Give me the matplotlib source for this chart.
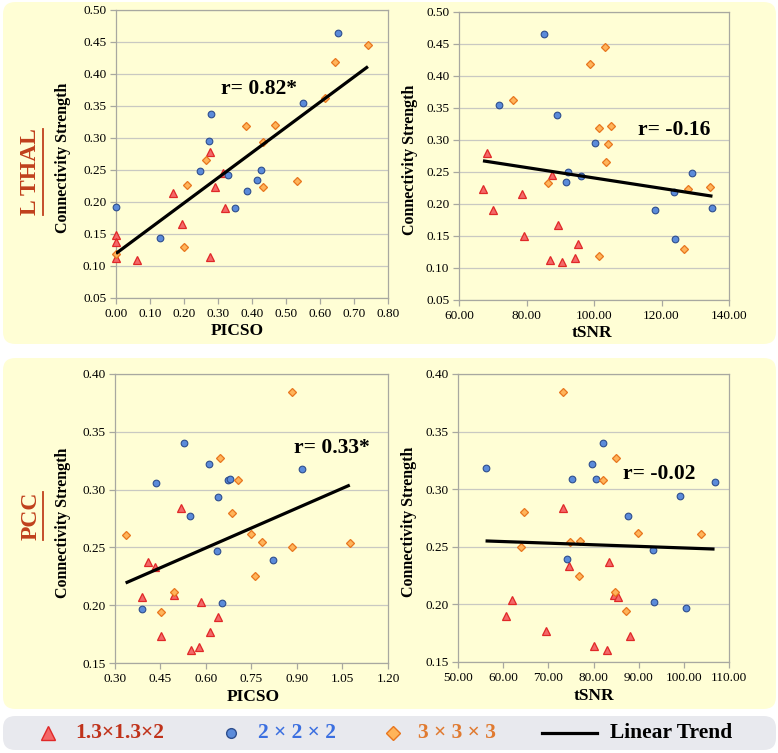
import numpy as np
import matplotlib
matplotlib.use('Agg')
import matplotlib.pyplot as plt
from matplotlib.patches import FancyBboxPatch
from matplotlib.lines import Line2D

plt.rcParams['font.family'] = ['Liberation Serif', 'DejaVu Serif']

# ---------------- data ----------------
# L THAL : PICSO
thal_picso_red = [0.0, 0.0, 0.0, 0.061, 0.167, 0.193, 0.275, 0.277, 0.29, 0.321, 0.314]
thal_str_red_p = [0.149, 0.137, 0.112, 0.110, 0.214, 0.166, 0.278, 0.114, 0.224, 0.190, 0.245]
thal_picso_blue = [0.0, 0.129, 0.247, 0.274, 0.278, 0.329, 0.349, 0.386, 0.416, 0.426, 0.549, 0.653]
thal_str_blue_p = [0.192, 0.144, 0.249, 0.295, 0.338, 0.242, 0.190, 0.217, 0.235, 0.250, 0.355, 0.464]
thal_picso_orange = [0.0, 0.2, 0.209, 0.266, 0.382, 0.433, 0.433, 0.467, 0.533, 0.614, 0.643, 0.741]
thal_str_orange_p = [0.118, 0.129, 0.226, 0.265, 0.318, 0.294, 0.224, 0.321, 0.233, 0.362, 0.418, 0.445]

# L THAL : tSNR
thal_tsnr_red = [67.1, 68.3, 70.2, 78.7, 79.4, 87.0, 87.6, 89.4, 90.4, 94.3, 95.4]
thal_str_red_t = [0.224, 0.279, 0.190, 0.215, 0.150, 0.113, 0.245, 0.167, 0.110, 0.115, 0.137]
thal_tsnr_blue = [71.95, 85.3, 89.0, 92.3, 91.8, 96.0, 100.3, 118.1, 123.7, 124.1, 128.9, 135.1]
thal_str_blue_t = [0.355, 0.465, 0.339, 0.250, 0.235, 0.243, 0.296, 0.190, 0.218, 0.145, 0.249, 0.193]
thal_tsnr_orange = [76.1, 86.4, 98.8, 103.2, 101.5, 105.0, 104.0, 103.5, 101.5, 126.6, 127.9, 134.4]
thal_str_orange_t = [0.362, 0.233, 0.418, 0.446, 0.318, 0.322, 0.294, 0.266, 0.118, 0.129, 0.224, 0.226]

# PCC : PICSO
pcc_picso_red = [0.388, 0.41, 0.431, 0.453, 0.493, 0.517, 0.551, 0.576, 0.584, 0.614, 0.638]
pcc_str_red_p = [0.207, 0.237, 0.233, 0.173, 0.209, 0.284, 0.161, 0.164, 0.203, 0.177, 0.190]
pcc_picso_blue = [0.389, 0.435, 0.529, 0.546, 0.61, 0.636, 0.641, 0.653, 0.671, 0.678, 0.822, 0.916]
pcc_str_blue_p = [0.197, 0.306, 0.340, 0.277, 0.322, 0.247, 0.294, 0.202, 0.308, 0.309, 0.239, 0.318]
pcc_picso_orange = [0.335, 0.45, 0.494, 0.647, 0.687, 0.704, 0.747, 0.76, 0.784, 0.883, 0.884, 1.074]
pcc_str_orange_p = [0.261, 0.194, 0.211, 0.327, 0.280, 0.308, 0.262, 0.225, 0.255, 0.384, 0.250, 0.254]

# PCC : tSNR
pcc_tsnr_red = [60.55, 61.96, 69.56, 73.3, 74.5, 80.0, 82.9, 83.5, 84.6, 85.5, 88.0]
pcc_str_red_t = [0.190, 0.204, 0.177, 0.284, 0.233, 0.164, 0.160, 0.237, 0.208, 0.206, 0.173]
pcc_tsnr_blue = [56.1, 74.1, 75.2, 79.6, 80.5, 82.0, 87.6, 93.2, 93.4, 99.2, 100.4, 106.8]
pcc_str_blue_t = [0.318, 0.239, 0.309, 0.322, 0.309, 0.340, 0.277, 0.247, 0.202, 0.294, 0.197, 0.306]
pcc_tsnr_orange = [63.9, 64.6, 73.2, 74.8, 77.1, 76.7, 82.2, 85.0, 84.7, 87.1, 89.8, 103.9]
pcc_str_orange_t = [0.250, 0.280, 0.384, 0.254, 0.255, 0.225, 0.308, 0.327, 0.211, 0.194, 0.262, 0.261]

r_labels = ["r= 0.82*", "r= -0.16", "r= 0.33*", "r= -0.02"]
row_labels = ["L THAL", "PCC"]
series_labels = ["1.3×1.3×2", "2 × 2 × 2", "3 × 3 × 3", "Linear Trend"]

# ---------------- style ----------------
W, H = 778, 753
BG = '#FFFED5'
RED_F, RED_E = '#F46868', '#E02828'
BLUE_F, BLUE_E = '#5B8BDA', '#2E4E8E'
OR_F, OR_E = '#FFB45A', '#E8761E'
GRID = '#C9C9C2'
SPINE = '#A8A8A0'

fig = plt.figure(figsize=(W / 100, H / 100), dpi=100)
fig.patch.set_facecolor('white')


def fx(px):
    return px / W


def fy(py):
    return 1 - py / H


def box(x0, y0, x1, y1, color):
    p = FancyBboxPatch((fx(x0), fy(y1)), fx(x1) - fx(x0), fy(y0) - fy(y1),
                       boxstyle="round,pad=0,rounding_size=0.016",
                       transform=fig.transFigure, facecolor=color,
                       edgecolor='none', zorder=0)
    fig.add_artist(p)


box(3, 2, 776, 344, BG)
box(3, 358, 776, 709, BG)
box(3, 716, 776, 750, '#E8E9EE')

panels = [
    dict(rect=(116, 10, 388, 298), xlim=(0, 0.8), xticks=np.arange(0, 0.81, 0.1),
         ylim=(0.05, 0.5), yticks=np.arange(0.05, 0.501, 0.05),
         red=(thal_picso_red, thal_str_red_p), blue=(thal_picso_blue, thal_str_blue_p),
         orange=(thal_picso_orange, thal_str_orange_p), r=(0.31, 0.376),
         xlab="PICSO", xlabpos=(237, 331), ylabx=63),
    dict(rect=(459, 12, 729, 300), xlim=(60, 140), xticks=np.arange(60, 141, 20),
         ylim=(0.05, 0.5), yticks=np.arange(0.05, 0.501, 0.05),
         red=(thal_tsnr_red, thal_str_red_t), blue=(thal_tsnr_blue, thal_str_blue_t),
         orange=(thal_tsnr_orange, thal_str_orange_t), r=(113, 0.316),
         xlab="tSNR", xlabpos=(592, 333), ylabx=410),
    dict(rect=(115, 374, 388, 663), xlim=(0.3, 1.2), xticks=np.arange(0.3, 1.201, 0.15),
         ylim=(0.15, 0.4), yticks=np.arange(0.15, 0.401, 0.05),
         red=(pcc_picso_red, pcc_str_red_p), blue=(pcc_picso_blue, pcc_str_blue_p),
         orange=(pcc_picso_orange, pcc_str_orange_p), r=(0.891, 0.336),
         xlab="PICSO", xlabpos=(253, 697), ylabx=63),
    dict(rect=(458, 374, 729, 662), xlim=(50, 110), xticks=np.arange(50, 111, 10),
         ylim=(0.15, 0.4), yticks=np.arange(0.15, 0.401, 0.05),
         red=(pcc_tsnr_red, pcc_str_red_t), blue=(pcc_tsnr_blue, pcc_str_blue_t),
         orange=(pcc_tsnr_orange, pcc_str_orange_t), r=(86.5, 0.313),
         xlab="tSNR", xlabpos=(594, 696), ylabx=409),
]

for i, p in enumerate(panels):
    x0, y0, x1, y1 = p['rect']
    ax = fig.add_axes([fx(x0), fy(y1), fx(x1) - fx(x0), fy(y0) - fy(y1)])
    ax.set_facecolor('none')
    ax.set_xlim(*p['xlim'])
    ax.set_ylim(*p['ylim'])
    ax.set_xticks(p['xticks'])
    ax.set_yticks(p['yticks'])
    ax.set_xticklabels([f"{v:.2f}" for v in p['xticks']])
    ax.set_yticklabels([f"{v:.2f}" for v in p['yticks']])
    ax.tick_params(axis='both', labelsize=9.5, color=SPINE, length=4, width=0.9,
                   direction='out', pad=3)
    for s in ax.spines.values():
        s.set_color(SPINE)
        s.set_linewidth(0.9)
    ax.grid(axis='y', color=GRID, lw=0.9)
    ax.set_axisbelow(True)

    rx, ry = p['red']
    bx, by = p['blue']
    ox, oy = p['orange']
    ax.plot(rx, ry, ls='none', marker='^', ms=6.4, mfc=RED_F, mec=RED_E, mew=0.9,
            zorder=3, clip_on=False)
    ax.plot(bx, by, ls='none', marker='o', ms=4.8, mfc=BLUE_F, mec=BLUE_E, mew=0.8,
            zorder=3, clip_on=False)
    ax.plot(ox, oy, ls='none', marker='D', ms=4.5, mfc=OR_F, mec=OR_E, mew=0.9,
            zorder=3, clip_on=False)

    allx = np.concatenate([rx, bx, ox])
    ally = np.concatenate([ry, by, oy])
    coef = np.polyfit(allx, ally, 1)
    xs = np.array([allx.min(), allx.max()])
    ax.plot(xs, np.polyval(coef, xs), color='black', lw=2.3, zorder=4,
            solid_capstyle='butt')

    ax.text(p['r'][0], p['r'][1], r_labels[i], fontsize=15.5, fontweight='bold',
            ha='left', va='center', zorder=5)

    fig.text(fx(p['xlabpos'][0]), fy(p['xlabpos'][1]), p['xlab'], fontsize=12.5,
             fontweight='bold', ha='center', va='center')
    fig.text(fx(p['ylabx']), fy((y0 + y1) / 2 + 4), "Connectivity Strength",
             fontsize=11.5, fontweight='bold', rotation=90, ha='center', va='center')

# row labels with underline
ROWC = '#C0401C'
renderer = fig.canvas.get_renderer()
for lab, cy in zip(row_labels, [172, 516]):
    t = fig.text(fx(31), fy(cy), lab, fontsize=17, fontweight='bold', color=ROWC,
                 rotation=90, ha='center', va='center')
    bb = t.get_window_extent(renderer=renderer)
    ybot = bb.y0 / H
    ytop = bb.y1 / H
    fig.add_artist(Line2D([fx(43), fx(43)], [ybot, ytop], color=ROWC, lw=1.3,
                          transform=fig.transFigure))

# legend
ly = fy(733)
fig.add_artist(Line2D([fx(48)], [ly], marker='^', ms=10, mfc=RED_F, mec=RED_E, mew=1.0,
                      ls='none', transform=fig.transFigure))
fig.text(fx(75), ly, series_labels[0], fontsize=15.5, fontweight='bold', color='#C0321A',
         ha='left', va='center')
fig.add_artist(Line2D([fx(231)], [ly], marker='o', ms=7, mfc=BLUE_F, mec=BLUE_E, mew=1.0,
                      ls='none', transform=fig.transFigure))
fig.text(fx(258), ly, series_labels[1], fontsize=15.5, fontweight='bold', color='#3B6FE0',
         ha='left', va='center')
fig.add_artist(Line2D([fx(393)], [ly], marker='D', ms=7, mfc=OR_F, mec=OR_E, mew=1.0,
                      ls='none', transform=fig.transFigure))
fig.text(fx(418), ly, series_labels[2], fontsize=15.5, fontweight='bold', color='#E07A30',
         ha='left', va='center')
fig.add_artist(Line2D([fx(542), fx(597)], [ly, ly], color='black', lw=2.3,
                      transform=fig.transFigure))
fig.text(fx(610), ly, series_labels[3], fontsize=15.5, fontweight='bold', color='black',
         ha='left', va='center')

fig.savefig('out.png', dpi=100, facecolor='white')
